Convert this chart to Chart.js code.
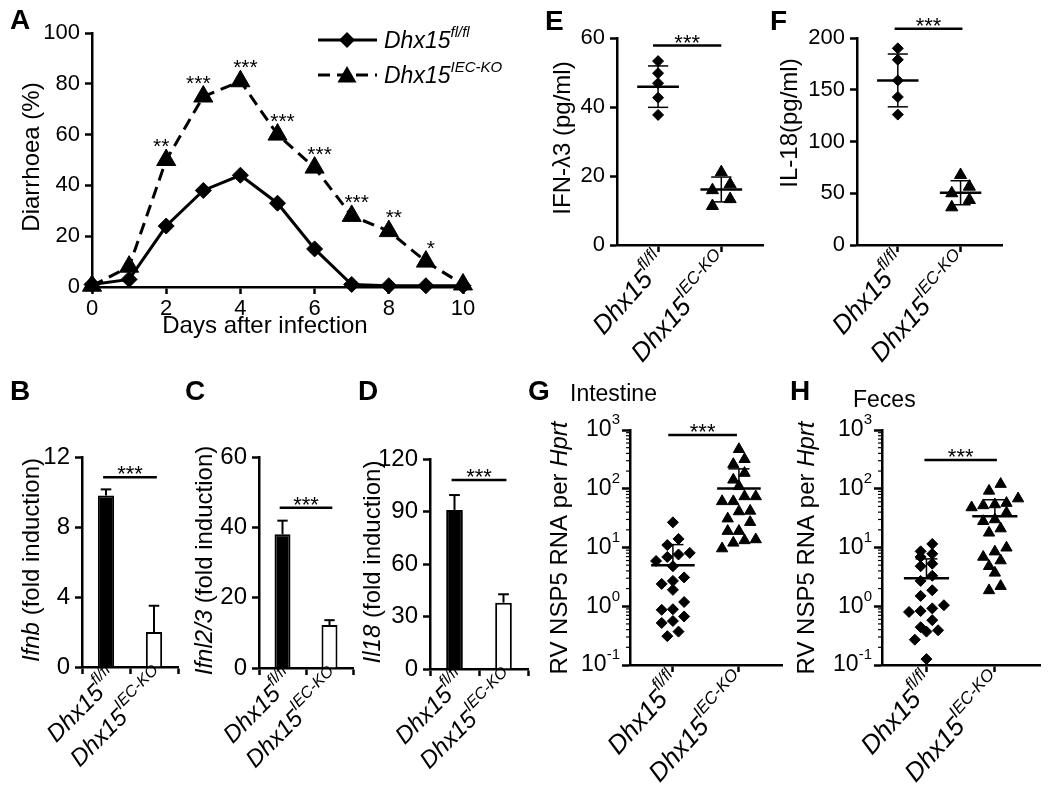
<!DOCTYPE html>
<html>
<head>
<meta charset="utf-8">
<script src="https://cdn.jsdelivr.net/npm/chart.js@4.4.1/dist/chart.umd.min.js"></script>
<style>
  body { margin: 0; background: #fff; }
  #fig { position: relative; width: 1050px; height: 806px; overflow: hidden; background: #fff; }
  #fig canvas { position: absolute; }
</style>
</head>
<body>
<div id="fig"></div>
<script>
const FONT = '"Liberation Sans", Arial, Helvetica, sans-serif';

// ---- data ----
// A: diarrhoea over time
const days = [0, 1, 2, 3, 4, 5, 6, 7, 8, 9, 10];
const diarrhoeaFl = [1, 3, 24, 38, 44, 33, 15, 1, 0.5, 0.5, 0.5];
const diarrhoeaKo = [0.5, 8, 50, 75, 81, 60, 47, 28, 22, 10, 1];
const diarrhoeaStars = ['', '', '**', '***', '***', '***', '***', '***', '**', '*', ''];

const genotypes = ['fl/fl', 'IEC-KO'];

// B-D: fold induction, mean and error
const ifnbMean = [9.8, 2.0];
const ifnbErr = [0.35, 1.5];
const ifnl23Mean = [38, 12.2];
const ifnl23Err = [3.9, 1.4];
const il18FoldMean = [90.9, 37.9];
const il18FoldErr = [8.5, 4.8];

// E-F: ELISA
const ifnL3Fl = [53.3, 49.8, 46.9, 42.7, 37.7];
const ifnL3Ko = [21.1, 17.6, 15.9, 13.3, 11.3];
const ifnL3Mean = [45.9, 16.1];
const ifnL3Sd = [6.0, 3.6];
const il18Fl = [190, 179, 159, 143, 126];
const il18Ko = [67.6, 56.4, 50, 43.5, 36.4];
const il18Mean = [159, 50.5];
const il18Sd = [25.5, 11.6];

// G-H: RV NSP5 RNA
const logTicks = [0.1, 1, 10, 100, 1000];
const intestineFl = [26.8, 14, 11, 8.1, 7.6, 6.9, 5.9, 4.8, 3.1, 2.7, 2.4, 1.9, 1.18, 0.89, 0.87, 0.67, 0.56, 0.52, 0.37, 0.31];
const intestineKo = [470, 318, 262, 185, 142, 110, 74, 74, 61, 61, 42, 41, 31, 27, 19, 19, 13.7, 13.2, 12, 9.6];
const intestineMean = [5.0, 101];
const intestineSd = [6.2, 117];
const fecesFl = [11.5, 8.6, 7.8, 6.9, 5.3, 4.8, 3.3, 2.7, 1.87, 1.5, 1.04, 0.92, 0.83, 0.8, 0.58, 0.44, 0.39, 0.37, 0.27, 0.126];
const fecesKo = [120, 92, 68, 57, 54, 52, 48, 39, 30, 28, 21, 17.8, 9.9, 8.5, 6.9, 6.0, 4.8, 3.7, 2.2, 1.86];
const fecesMean = [3.0, 34];
const fecesSd = [3.4, 31];

Chart.defaults.font.family = FONT;
Chart.defaults.color = '#000';

// ---- text helpers ----
function seg(t, f) { f = f || ''; return { t, i: f.includes('i'), s: f.includes('s'), b: f.includes('b') }; }
function fontOf(sg, size) {
  return (sg.i ? 'italic ' : '') + (sg.b ? 'bold ' : '') + (sg.s ? Math.round(size * 0.66) : size) + 'px ' + FONT;
}
function drawRich(ctx, segs, x, y, size, angle, align) {
  ctx.save();
  ctx.translate(x, y);
  ctx.rotate(angle * Math.PI / 180);
  ctx.fillStyle = '#000';
  ctx.textBaseline = 'middle';
  ctx.textAlign = 'left';
  let w = 0;
  segs.forEach(sg => { ctx.font = fontOf(sg, size); w += ctx.measureText(sg.t).width; });
  let cx = align === 'right' ? -w : align === 'center' ? -w / 2 : 0;
  segs.forEach(sg => {
    ctx.font = fontOf(sg, size);
    ctx.fillText(sg.t, cx, sg.s ? -size * 0.42 : 0);
    cx += ctx.measureText(sg.t).width;
  });
  ctx.restore();
}
function line(ctx, x1, y1, x2, y2) { ctx.beginPath(); ctx.moveTo(x1, y1); ctx.lineTo(x2, y2); ctx.stroke(); }
function diamond(ctx, x, y, r) { ctx.beginPath(); ctx.moveTo(x, y - r); ctx.lineTo(x + r, y); ctx.lineTo(x, y + r); ctx.lineTo(x - r, y); ctx.closePath(); ctx.fill(); }
function triangle(ctx, x, y, r) { ctx.beginPath(); ctx.moveTo(x, y - r); ctx.lineTo(x + 0.866 * r, y + 0.5 * r); ctx.lineTo(x - 0.866 * r, y + 0.5 * r); ctx.closePath(); ctx.fill(); }

// ---- layout helpers ----
function makeCanvas(box) {
  const c = document.createElement('canvas');
  c.width = box.w; c.height = box.h;
  Object.assign(c.style, { left: box.x + 'px', top: box.y + 'px', width: box.w + 'px', height: box.h + 'px' });
  document.getElementById('fig').appendChild(c);
  return c;
}
function pad(box, area) { return { left: 0, top: area.t - box.y, right: box.x + box.w - area.r, bottom: 0 }; }
const BORDER = { display: true, color: '#000', width: 2.5 };
const GRID = { drawOnChartArea: false, drawTicks: true, tickLength: 7, tickColor: '#000', tickWidth: 2.5 };

function yLinear(box, area, min, max, step, size) {
  return {
    min, max, border: BORDER, grid: GRID,
    ticks: { stepSize: step, color: '#000', font: { size }, padding: 5 },
    afterFit: s => { s.width = area.l - box.x; }
  };
}
function yLog(box, area) {
  return {
    type: 'logarithmic', min: logTicks[0], max: logTicks[logTicks.length - 1],
    border: BORDER, grid: Object.assign({}, GRID, { tickLength: 8 }),
    ticks: { display: false },
    afterBuildTicks: s => { s.ticks = logTicks.map(v => ({ value: v, major: true })); },
    afterFit: s => { s.width = area.l - box.x; }
  };
}
function xGroups(box, area) {
  return {
    type: 'linear', min: 0.35, max: 2.66, border: BORDER, grid: GRID,
    ticks: { display: false },
    afterBuildTicks: s => { s.ticks = [{ value: 1 }, { value: 2 }]; },
    afterFit: s => { s.height = box.y + box.h - area.b; }
  };
}
function xBars(box, area) {
  return {
    type: 'category', offset: true, border: BORDER,
    grid: Object.assign({}, GRID, { offset: true }),
    ticks: { display: false },
    afterFit: s => { s.height = box.y + box.h - area.b; }
  };
}
const BASE = { responsive: false, animation: false, events: [], devicePixelRatio: 1 };
const NOPLUG = { legend: { display: false }, tooltip: { enabled: false } };

// horizontal spread of points that share a row (column scatter)
function columnScatter(values, center, toPx, gapPx, step) {
  const order = values.map((v, i) => i).sort((a, b) => values[b] - values[a]);
  const xs = [];
  let row = [];
  const flush = () => { row.forEach((idx, k) => { xs[idx] = center + ((row.length - 1) / 2 - k) * step; }); row = []; };
  order.forEach(idx => {
    if (row.length && toPx(values[row[0]]) - toPx(values[idx]) >= gapPx) flush();
    row.push(idx);
  });
  flush();
  return xs;
}

// ---- annotation helpers ----
function txt(chart, box, segs, px, py, size, angle, align) { drawRich(chart.ctx, segs, px - box.x, py - box.y, size, angle, align); }
function letter(chart, box, l, px, py) { txt(chart, box, [seg(l, 'b')], px, py, 28, 0, 'left'); }
function sigBar(chart, x1, x2, yv, stars) {
  const ctx = chart.ctx, xs = chart.scales.x, ys = chart.scales.y;
  const y = ys.getPixelForValue(yv), a = xs.getPixelForValue(x1), b = xs.getPixelForValue(x2);
  ctx.save();
  ctx.strokeStyle = '#000'; ctx.lineWidth = 2.5;
  line(ctx, a, y, b, y);
  ctx.fillStyle = '#000'; ctx.font = '22px ' + FONT; ctx.textAlign = 'center'; ctx.textBaseline = 'alphabetic';
  ctx.fillText(stars, (a + b) / 2, y + 4);
  ctx.restore();
}
function groupLabels(chart, first, dx, dy, angle, size) {
  const xs = chart.scales.x, y0 = chart.chartArea.bottom;
  genotypes.forEach((g, i) => {
    drawRich(chart.ctx, [seg('Dhx15', 'i'), seg(g, 'is')], xs.getPixelForValue(first + i) + dx, y0 + dy, size, -angle, 'right');
  });
}
function meanSd(chart, means, sds, upperOnly) {
  const ctx = chart.ctx, xs = chart.scales.x, ys = chart.scales.y;
  const px = v => xs.getPixelForValue(v), py = v => ys.getPixelForValue(v);
  ctx.save(); ctx.strokeStyle = '#000';
  means.forEach((m, i) => {
    const c = i + 1, hi = m + sds[i], lo = upperOnly ? m : m - sds[i];
    ctx.lineWidth = 2.5; line(ctx, px(c - 0.33), py(m), px(c + 0.33), py(m));
    ctx.lineWidth = 1.5;
    line(ctx, px(c), py(lo), px(c), py(hi));
    line(ctx, px(c - 0.16), py(hi), px(c + 0.16), py(hi));
    if (!upperOnly) line(ctx, px(c - 0.16), py(lo), px(c + 0.16), py(lo));
  });
  ctx.restore();
}
function barErr(chart, means, errs) {
  const ctx = chart.ctx, xs = chart.scales.x, ys = chart.scales.y;
  ctx.save(); ctx.strokeStyle = '#000'; ctx.lineWidth = 2;
  means.forEach((m, i) => {
    const y1 = ys.getPixelForValue(m), y2 = ys.getPixelForValue(m + errs[i]);
    line(ctx, xs.getPixelForValue(i), y1, xs.getPixelForValue(i), y2);
    line(ctx, xs.getPixelForValue(i - 0.11), y2, xs.getPixelForValue(i + 0.11), y2);
  });
  ctx.restore();
}
function logLabels(chart) {
  const ctx = chart.ctx, ys = chart.scales.y, l = chart.chartArea.left;
  ctx.save(); ctx.strokeStyle = '#000'; ctx.lineWidth = 1.2;
  for (let k = 0; k < logTicks.length - 1; k++) {
    for (let m = 2; m < 10; m++) {
      const y = ys.getPixelForValue(logTicks[k] * m);
      line(ctx, l - 4, y, l, y);
    }
  }
  ctx.restore();
  logTicks.forEach(v => {
    drawRich(ctx, [seg('10'), seg(String(Math.round(Math.log10(v))), 's')], l - 10, ys.getPixelForValue(v), 23, 0, 'right');
  });
}

// ---- A: line chart ----
const boxA = { x: 0, y: 0, w: 540, h: 350 };
const areaA = { l: 92, t: 33, r: 463, b: 287 };
new Chart(makeCanvas(boxA), {
  type: 'line',
  data: {
    datasets: [
      { label: 'fl', data: days.map((d, i) => ({ x: d, y: diarrhoeaFl[i] })), borderColor: '#000', backgroundColor: '#000',
        borderWidth: 3, pointStyle: 'rectRot', pointRadius: 8, pointBorderWidth: 1, clip: false },
      { label: 'ko', data: days.map((d, i) => ({ x: d, y: diarrhoeaKo[i] })), borderColor: '#000', backgroundColor: '#000',
        borderWidth: 3, borderDash: [12, 7], pointStyle: 'triangle', pointRadius: 11, pointBorderWidth: 1, clip: false }
    ]
  },
  options: Object.assign({}, BASE, {
    layout: { padding: pad(boxA, areaA) },
    plugins: NOPLUG,
    scales: {
      x: { type: 'linear', min: 0, max: 10, border: BORDER, grid: GRID,
           ticks: { stepSize: 2, color: '#000', font: { size: 22 }, padding: 2 },
           afterFit: s => { s.height = boxA.y + boxA.h - areaA.b; } },
      y: yLinear(boxA, areaA, 0, 100, 20, 22)
    }
  }),
  plugins: [{
    id: 'decoA',
    afterDraw(chart) {
      const ctx = chart.ctx, xs = chart.scales.x, ys = chart.scales.y;
      ctx.save(); ctx.fillStyle = '#000'; ctx.font = '21px ' + FONT; ctx.textAlign = 'center'; ctx.textBaseline = 'alphabetic';
      diarrhoeaStars.forEach((s, i) => {
        if (!s) return;
        const dx = i < days.length - 1 && diarrhoeaKo[i + 1] > diarrhoeaKo[i] ? -5 : 5;
        ctx.fillText(s, xs.getPixelForValue(days[i]) + dx, ys.getPixelForValue(diarrhoeaKo[i]) - 7);
      });
      // legend
      ctx.strokeStyle = '#000'; ctx.lineWidth = 3;
      line(ctx, 318, 40, 377, 40); diamond(ctx, 347, 40, 8);
      ctx.setLineDash([12, 7]); line(ctx, 318, 75, 377, 75); ctx.setLineDash([]); triangle(ctx, 347, 77, 11);
      ctx.restore();
      txt(chart, boxA, [seg('Dhx15', 'i'), seg(genotypes[0], 'is')], 384, 42, 23, 0, 'left');
      txt(chart, boxA, [seg('Dhx15', 'i'), seg(genotypes[1], 'is')], 384, 77, 23, 0, 'left');
      txt(chart, boxA, [seg('Diarrhoea (%)')], 32, 157, 24, -90, 'center');
      txt(chart, boxA, [seg('Days after infection')], 265, 326, 24, 0, 'center');
      letter(chart, boxA, 'A', 10, 21);
    }
  }]
});

// ---- B-D: bar charts ----
function barPanel(box, area, tag, means, errs, max, step, title, titleX, letterX, sigY) {
  new Chart(makeCanvas(box), {
    type: 'bar',
    data: {
      labels: genotypes,
      datasets: [{ data: means, backgroundColor: ['#000', '#fff'], borderColor: '#000', borderWidth: 2,
                   barPercentage: 0.34, categoryPercentage: 1 }]
    },
    options: Object.assign({}, BASE, {
      layout: { padding: pad(box, area) },
      plugins: NOPLUG,
      scales: { x: xBars(box, area), y: yLinear(box, area, 0, max, step, 24) }
    }),
    plugins: [{
      id: 'deco' + tag,
      afterDraw(chart) {
        barErr(chart, means, errs);
        sigBar(chart, -0.06, 1.06, sigY, '***');
        groupLabels(chart, 0, 9, 8, 45, 24);
        txt(chart, box, title, titleX, (area.t + area.b) / 2 - 2, 24, -90, 'center');
        letter(chart, box, tag, letterX, 392);
      }
    }]
  });
}
barPanel({ x: 0, y: 370, w: 185, h: 436 }, { l: 82, t: 457, r: 178, b: 667 }, 'B', ifnbMean, ifnbErr, 12, 4,
  [seg('Ifnb', 'i'), seg(' (fold induction)')], 32, 10, 10.84);
barPanel({ x: 180, y: 370, w: 180, h: 436 }, { l: 259, t: 457, r: 353, b: 668 }, 'C', ifnl23Mean, ifnl23Err, 60, 20,
  [seg('Ifnl2/3', 'i'), seg(' (fold induction)')], 205, 185, 45.6);
barPanel({ x: 350, y: 370, w: 185, h: 436 }, { l: 430, t: 459, r: 528, b: 669 }, 'D', il18FoldMean, il18FoldErr, 120, 30,
  [seg('Il18', 'i'), seg(' (fold induction)')], 373, 358, 108);

// ---- E-H: scatter panels ----
const sigX = { E: [0.92, 2.0], F: [0.95, 2.03], G: [0.93, 1.97], H: [0.97, 2.03] };
function scatterPanel(cfg) {
  const { box, area, tag, fl, ko, means, sds, log, ymax, step, title, titleX, titleY, sigY, spread, letterX } = cfg;
  const plotH = area.b - area.t;
  const toPx = log ? v => Math.log10(v) / 4 * plotH : v => v / ymax * plotH;
  const flX = columnScatter(fl, 1, toPx, 9.5, spread);
  const koX = columnScatter(ko, 2, toPx, 9.5, spread);
  new Chart(makeCanvas(box), {
    type: 'scatter',
    data: {
      datasets: [
        { data: fl.map((v, i) => ({ x: flX[i], y: v })), pointStyle: 'rectRot', pointRadius: 5.5,
          backgroundColor: '#000', borderColor: '#000', borderWidth: 1, clip: false },
        { data: ko.map((v, i) => ({ x: koX[i], y: v })), pointStyle: 'triangle', pointRadius: log ? 6.5 : 7,
          backgroundColor: '#000', borderColor: '#000', borderWidth: 1, clip: false }
      ]
    },
    options: Object.assign({}, BASE, {
      layout: { padding: pad(box, area) },
      plugins: NOPLUG,
      scales: { x: xGroups(box, area), y: log ? yLog(box, area) : yLinear(box, area, 0, ymax, step, 22) }
    }),
    plugins: [{
      id: 'deco' + tag,
      afterDraw(chart) {
        meanSd(chart, means, sds, log);
        sigBar(chart, sigX[tag][0], sigX[tag][1], sigY, '***');
        if (log) logLabels(chart);
        groupLabels(chart, 1, 5, 14, 48, 26);
        txt(chart, box, title, titleX, titleY, 24, -90, 'center');
        letter(chart, box, tag, letterX, tag === 'E' || tag === 'F' ? 22 : 392);
        if (cfg.heading) txt(chart, box, [seg(cfg.heading[0])], cfg.heading[1], cfg.heading[2], 23, 0, 'left');
      }
    }]
  });
}
scatterPanel({ box: { x: 530, y: 0, w: 250, h: 380 }, area: { l: 617, t: 38, r: 763, b: 245 }, tag: 'E',
  fl: ifnL3Fl, ko: ifnL3Ko, means: ifnL3Mean, sds: ifnL3Sd, ymax: 60, step: 20, spread: 0.28,
  title: [seg('IFN-\u03bb3 (pg/ml)')], titleX: 563, titleY: 138, sigY: 57.8, letterX: 545 });
scatterPanel({ box: { x: 765, y: 0, w: 285, h: 380 }, area: { l: 857, t: 38, r: 1002, b: 245 }, tag: 'F',
  fl: il18Fl, ko: il18Ko, means: il18Mean, sds: il18Sd, ymax: 200, step: 50, spread: 0.28,
  title: [seg('IL-18(pg/ml)')], titleX: 790, titleY: 123, sigY: 209, letterX: 770 });
scatterPanel({ box: { x: 520, y: 370, w: 270, h: 436 }, area: { l: 630, t: 430, r: 787, b: 665 }, tag: 'G',
  fl: intestineFl, ko: intestineKo, means: intestineMean, sds: intestineSd, log: true, spread: 0.17,
  title: [seg('RV NSP5 RNA per '), seg('Hprt', 'i')], titleX: 560, titleY: 548, sigY: 822, letterX: 528,
  heading: ['Intestine', 570, 395] });
scatterPanel({ box: { x: 785, y: 370, w: 265, h: 436 }, area: { l: 882, t: 430, r: 1040, b: 665 }, tag: 'H',
  fl: fecesFl, ko: fecesKo, means: fecesMean, sds: fecesSd, log: true, spread: 0.17,
  title: [seg('RV NSP5 RNA per '), seg('Hprt', 'i')], titleX: 807, titleY: 548, sigY: 309, letterX: 790,
  heading: ['Feces', 853, 401] });
</script>
</body>
</html>
